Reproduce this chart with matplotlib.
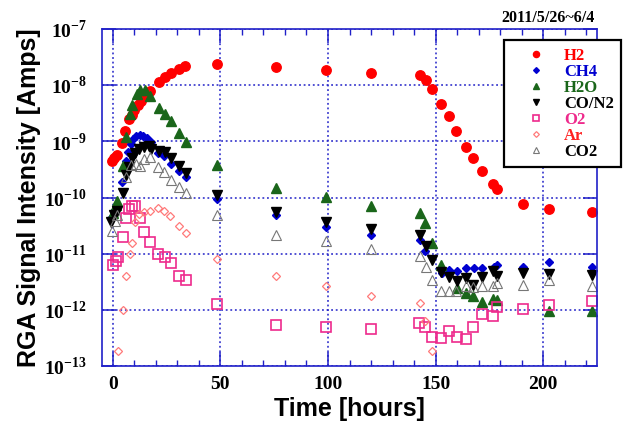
import matplotlib
matplotlib.use("Agg")
import matplotlib.pyplot as plt
from matplotlib.ticker import FixedLocator, MultipleLocator, NullLocator, FixedFormatter

plt.rcParams['mathtext.fontset'] = 'custom'
plt.rcParams['mathtext.rm'] = 'Liberation Serif:bold'
plt.rcParams['mathtext.bf'] = 'Liberation Serif:bold'

# hours / ion current [A]
h2_t = [-0.3, 0.6, 1.8, 4.2, 5.7, 7.7, 9.1, 10.0, 11.6, 13.2, 15.5, 17.3, 21.4, 24.3, 27.0, 31.0, 33.6,
        48.4, 75.9, 99.2, 120.0, 142.6, 145.4, 148.4, 152.7, 156.1, 159.7, 164.0, 167.4, 171.6, 176.7,
        178.6, 190.7, 202.6, 222.8]
h2_v = [4.5e-10, 5.0e-10, 5.7e-10, 9.2e-10, 1.52e-9, 2.46e-9, 2.93e-9, 3.6e-9, 4.4e-9, 5.3e-9, 6.4e-9,
        7.9e-9, 1.12e-8, 1.37e-8, 1.65e-8, 1.98e-8, 2.17e-8, 2.36e-8, 2.11e-8, 1.9e-8, 1.65e-8, 1.49e-8,
        1.26e-8, 8.6e-9, 4.7e-9, 2.78e-9, 1.52e-9, 8.0e-10, 5.0e-10, 3.0e-10, 1.74e-10, 1.42e-10,
        7.7e-11, 6.3e-11, 5.6e-11]

ch4_t = [-0.8, 1.1, 4.2, 6.0, 7.3, 8.3, 9.4, 10.9, 12.5, 14.1, 15.8, 17.6, 21.1, 23.9, 27.0, 30.8, 33.8,
         48.4, 75.9, 99.2, 120.0, 142.9, 145.3, 152.8, 156.1, 160.0, 164.1, 167.7, 171.6, 177.1, 178.6,
         190.7, 202.6, 222.8]
ch4_v = [4.3e-11, 6.0e-11, 1.91e-10, 4.5e-10, 6.5e-10, 8.95e-10, 1.12e-9, 1.27e-9, 1.32e-9, 1.27e-9,
         1.15e-9, 9.9e-10, 6.3e-10, 5.4e-10, 3.95e-10, 2.97e-10, 2.3e-10, 9.4e-11, 4.9e-11, 3.04e-11,
         2.17e-11, 1.77e-11, 1.13e-11, 4.5e-12, 5.2e-12, 5.0e-12, 5.5e-12, 5.5e-12, 5.5e-12, 5.8e-12,
         6.4e-12, 5.8e-12, 7.1e-12, 5.8e-12]

h2o_t = [0.3, 1.4, 2.1, 4.7, 6.2, 8.0, 9.1, 11.2, 12.7, 14.8, 17.3, 21.3, 24.2, 27.0, 30.8, 34.0, 48.4,
         75.9, 99.2, 120.0, 142.9, 145.3, 148.4, 152.6, 159.8, 164.1, 167.6, 171.6, 176.9, 178.6, 202.6,
         222.8]
h2o_v = [5.3e-11, 7.4e-11, 8.8e-11, 3.7e-10, 1.19e-9, 3.1e-9, 4.4e-9, 7.1e-9, 8.1e-9, 8.1e-9, 6.5e-9,
         3.9e-9, 3.1e-9, 2.27e-9, 1.39e-9, 9.9e-10, 3.75e-10, 1.5e-10, 1.04e-10, 7.2e-11, 5.4e-11,
         3.5e-11, 1.54e-11, 6.4e-12, 2.48e-12, 1.98e-12, 1.79e-12, 1.36e-12, 1.55e-12, 1.52e-12,
         9.7e-13, 9.7e-13]

co_t = [-0.65, 0.5, 1.9, 4.7, 6.2, 7.7, 9.0, 10.2, 12.4, 14.6, 16.7, 17.7, 21.4, 24.2, 27.1, 30.8, 34.1,
        48.4, 75.9, 99.2, 120.0, 142.9, 145.4, 148.5, 152.7, 156.0, 159.8, 164.1, 167.4, 171.6, 176.9,
        178.6, 190.7, 202.6, 222.8]
co_v = [3.7e-11, 4.8e-11, 5.8e-11, 1.21e-10, 2.52e-10, 3.54e-10, 5.0e-10, 6.1e-10, 7.2e-10, 7.8e-10,
        8.1e-10, 7.3e-10, 6.8e-10, 6.5e-10, 5.0e-10, 3.7e-10, 2.77e-10, 1.11e-10, 5.6e-11, 3.73e-11,
        2.73e-11, 2.17e-11, 1.38e-11, 7.6e-12, 4.7e-12, 3.9e-12, 3.3e-12, 3.7e-12, 2.8e-12, 3.9e-12,
        5.0e-12, 4.0e-12, 4.6e-12, 4.3e-12, 4.2e-12]

o2_t = [0.0, 1.3, 2.6, 4.6, 6.2, 7.4, 8.8, 10.5, 12.6, 14.4, 17.5, 21.2, 24.2, 27.0, 30.9, 34.0, 48.4,
        75.9, 99.2, 120.0, 142.1, 145.3, 148.5, 152.7, 156.1, 159.8, 164.1, 167.6, 171.6, 176.9, 178.6,
        190.7, 202.6, 222.8]
o2_v = [6.4e-12, 7.3e-12, 8.7e-12, 1.97e-11, 4.3e-11, 6.3e-11, 7.2e-11, 6.95e-11, 4.4e-11, 2.45e-11,
        1.61e-11, 9.95e-12, 8.9e-12, 6.9e-12, 4.05e-12, 3.44e-12, 1.29e-12, 5.45e-13, 4.9e-13, 4.6e-13,
        5.75e-13, 5.0e-13, 3.3e-13, 3.17e-13, 4.15e-13, 3.34e-13, 3.08e-13, 4.87e-13, 8.45e-13, 7.7e-13,
        1.14e-12, 1.04e-12, 1.24e-12, 1.46e-12]

ar_t = [2.6, 4.6, 6.3, 8.0, 9.0, 10.4, 12.4, 14.7, 17.3, 21.2, 24.0, 26.8, 30.7, 33.8, 48.4, 75.9, 99.2,
        120.0, 142.9, 145.3, 148.4]
ar_v = [1.86e-13, 9.95e-13, 4.05e-12, 9.95e-12, 1.58e-11, 3.6e-11, 5.1e-11, 5.5e-11, 5.8e-11, 6.6e-11,
        5.8e-11, 4.66e-11, 3.15e-11, 2.32e-11, 8.1e-12, 4.05e-12, 2.61e-12, 1.74e-12, 1.33e-12, 6.25e-13,
        1.83e-13]

co2_t = [-0.55, 1.1, 2.0, 6.2, 8.4, 10.8, 12.7, 14.7, 17.3, 21.2, 24.0, 27.0, 30.8, 34.0, 48.4, 75.9,
         99.2, 120.0, 142.9, 145.4, 148.5, 152.7, 156.0, 159.7, 164.0, 167.4, 171.6, 176.7, 178.6, 190.7,
         202.6, 222.8]
co2_v = [2.5e-11, 3.84e-11, 4.9e-11, 2.35e-10, 3.8e-10, 3.9e-10, 3.7e-10, 4.8e-10, 5.3e-10, 3.54e-10,
         2.88e-10, 2.06e-10, 1.53e-10, 1.18e-10, 4.9e-11, 2.17e-11, 1.65e-11, 1.21e-11, 9.2e-12, 5.9e-12,
         3.44e-12, 2.13e-12, 2.13e-12, 2.13e-12, 2.61e-12, 2.55e-12, 2.61e-12, 2.61e-12, 3.0e-12, 2.8e-12,
         3.44e-12, 2.69e-12]

x_ticks = [0, 50, 100, 150, 200]
y_ticks = [1e-13, 1e-12, 1e-11, 1e-10, 1e-9, 1e-8, 1e-7]
y_labels = [r'$10^{-13}$', r'$10^{-12}$', r'$10^{-11}$', r'$10^{-10}$', r'$10^{-9}$', r'$10^{-8}$', r'$10^{-7}$']

blue = '#2020c8'

fig = plt.figure(figsize=(6.25, 4.23), dpi=100)
ax = fig.add_axes([102/625, 1 - 366/423, 495/625, 337/423])

ax.plot(h2_t, h2_v, 'o', color='#ff0000', ms=6.8, mec='#ff0000', label='H2')
ax.plot(ch4_t, ch4_v, 'D', color='#0000d0', ms=4.5, mec='#0000d0', label='CH4')
ax.plot(h2o_t, h2o_v, '^', color='#1a661a', ms=6.8, mec='#1a661a', label='H2O')
ax.plot(co_t, co_v, 'v', color='black', ms=6.8, label='CO/N2')
ax.plot(o2_t, o2_v, 's', mfc='none', mec='#ee2a8c', mew=1.2, ms=6.8, label='O2')
ax.plot(ar_t, ar_v, 'D', mfc='none', mec='#ff7a7a', mew=0.9, ms=4.5, label='Ar')
ax.plot(co2_t, co2_v, '^', mfc='none', mec='#777777', mew=0.8, ms=6.8, label='CO2')

ax.set_yscale('log')
ax.set_xlim(-5, 225)
ax.set_ylim(1e-13, 1e-7)

ax.xaxis.set_major_locator(FixedLocator(x_ticks))
ax.xaxis.set_minor_locator(MultipleLocator(10))
ax.yaxis.set_major_locator(FixedLocator(y_ticks))
ax.yaxis.set_major_formatter(FixedFormatter(y_labels))
ax.yaxis.set_minor_locator(NullLocator())

ax.grid(True, which='major', color=blue, linestyle=(0, (1.2, 1.8)), linewidth=1.1)
for s in ax.spines.values():
    s.set_color(blue)
    s.set_linewidth(1.2)
ax.tick_params(which='both', direction='in', top=True, right=True, color=blue)
ax.tick_params(which='major', length=10, width=1.1, pad=7)
ax.tick_params(which='minor', length=4, width=1.0)
ax.tick_params(axis='y', which='major', pad=11)
for lab in ax.get_xticklabels() + ax.get_yticklabels():
    lab.set_fontfamily('Liberation Serif')
    lab.set_fontweight('bold')
    lab.set_fontsize(14)

ax.set_xlabel('Time [hours]', fontfamily='Liberation Sans', fontweight='bold', fontsize=18, labelpad=3)
ax.set_ylabel('RGA Signal Intensity [Amps]', fontfamily='Liberation Sans', fontweight='bold', fontsize=18,
              labelpad=2)

fig.text(595/625, 1 - 22/423, '2011/5/26~6/4', ha='right', va='baseline',
         fontfamily='Liberation Serif', fontweight='bold', fontsize=11.5)

leg = ax.legend(loc='upper left', bbox_to_anchor=(504/625, 1 - 40/423), bbox_transform=fig.transFigure,
                borderaxespad=0, fancybox=False, framealpha=1, edgecolor='black', markerscale=0.65,
                prop={'family': 'Liberation Serif', 'weight': 'bold', 'size': 12},
                borderpad=0.45, handlelength=2.9, handletextpad=0.25, labelspacing=0.0)
leg.get_frame().set_linewidth(1.6)
text_colors = ['#ff0000', '#0000d0', '#1a661a', 'black', '#ee2a8c', '#ff2020', 'black']
for t, c in zip(leg.get_texts(), text_colors):
    t.set_color(c)

fig.savefig('out.png', dpi=100)
